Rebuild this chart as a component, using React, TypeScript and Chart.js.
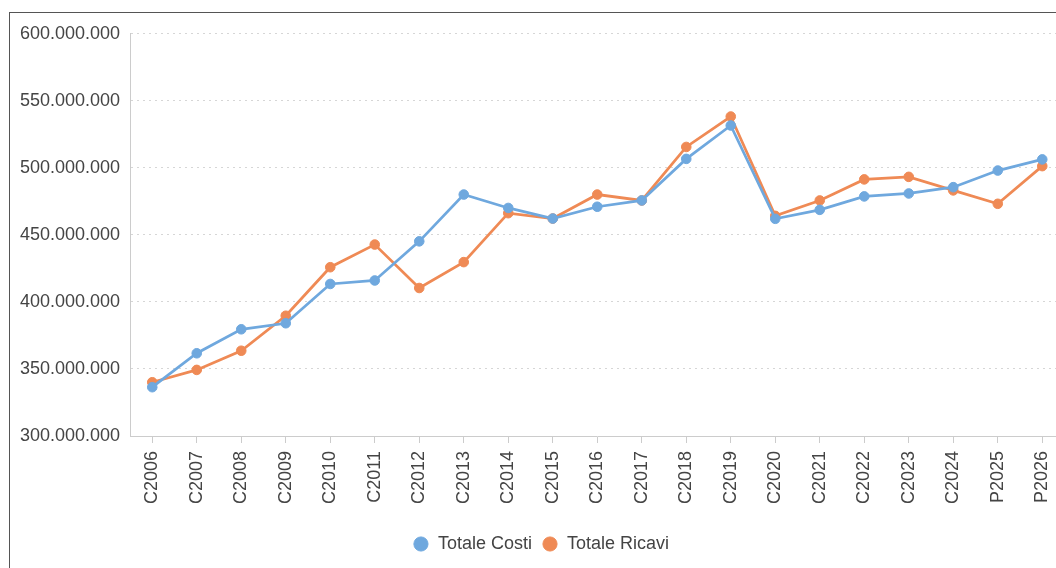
import React, { useEffect, useRef } from "react";
import { Chart, registerables } from "chart.js";

Chart.register(...registerables);

const categories = [
  "C2006", "C2007", "C2008", "C2009", "C2010", "C2011", "C2012", "C2013", "C2014", "C2015",
  "C2016", "C2017", "C2018", "C2019", "C2020", "C2021", "C2022", "C2023", "C2024", "P2025", "P2026",
];

const totaleCosti = [
  336400000, 361700000, 379600000, 384100000, 413400000, 416000000, 445200000, 480100000,
  470100000, 462200000, 471000000, 475700000, 506700000, 531600000, 462000000, 468700000,
  478700000, 480900000, 485600000, 498000000, 506300000,
];

const totaleRicavi = [
  340100000, 349300000, 363600000, 389700000, 425900000, 442800000, 410400000, 429700000,
  466200000, 462200000, 480100000, 475700000, 515600000, 538300000, 464200000, 475700000,
  491400000, 493300000, 483200000, 473200000, 501300000,
];

const yMin = 300000000;
const yMax = 600000000;
const yStep = 50000000;

const seriesNames = ["Totale Costi", "Totale Ricavi"];
const seriesColors = ["#6FA8DE", "#EF8A55"];

function formatIt(v: number): string {
  return String(Math.round(v)).replace(/\B(?=(\d{3})+(?!\d))/g, ".");
}

export default function App() {
  const canvasRef = useRef<HTMLCanvasElement | null>(null);

  useEffect(() => {
    if (!canvasRef.current) return;
    Chart.defaults.font.family = "'Liberation Sans', Arial, sans-serif";
    Chart.defaults.color = "#444";
    const text = "#444";
    const chart = new Chart(canvasRef.current, {
      type: "line",
      data: {
        labels: categories,
        datasets: [totaleCosti, totaleRicavi].map((d, i) => ({
          label: seriesNames[i],
          data: d,
          borderColor: seriesColors[i],
          backgroundColor: seriesColors[i],
          pointBackgroundColor: seriesColors[i],
          pointBorderColor: seriesColors[i],
          borderWidth: 2.75,
          pointRadius: 4.8,
          pointBorderWidth: 1,
          tension: 0,
          fill: false,
        })),
      },
      options: {
        animation: false,
        responsive: false,
        maintainAspectRatio: false,
        layout: { padding: { top: 20, right: 0, bottom: 0, left: 0 } },
        plugins: {
          legend: {
            position: "bottom",
            labels: {
              usePointStyle: true,
              pointStyle: "circle",
              boxWidth: 16,
              boxHeight: 10,
              padding: 10,
              color: text,
              font: { size: 18 },
            },
          },
          tooltip: { enabled: false },
        },
        scales: {
          x: {
            offset: true,
            afterFit: (scale: any) => {
              scale.height = 89;
            },
            grid: {
              drawOnChartArea: false,
              drawTicks: true,
              tickLength: 7,
              color: "#cccccc",
            },
            border: { color: "#cccccc", width: 1 },
            ticks: {
              color: text,
              font: { size: 18 },
              maxRotation: 90,
              minRotation: 90,
              autoSkip: false,
              padding: 8,
            },
          },
          y: {
            min: yMin,
            max: yMax,
            afterFit: (scale: any) => {
              scale.width = 120;
            },
            grid: {
              color: "#d6d6d6",
              drawTicks: false,
              lineWidth: 1,
            },
            border: { display: true, color: "#cccccc", width: 1, dash: [2, 4] },
            ticks: {
              stepSize: yStep,
              color: text,
              font: { size: 18 },
              padding: 10,
              callback: (v: any) => formatIt(Number(v)),
            },
          },
        },
      },
    });
    return () => chart.destroy();
  }, []);

  return (
    <div style={{ position: "fixed", left: 0, top: 0, width: 1056, height: 568, overflow: "hidden", background: "#fff" }}>
      <div
        style={{
          position: "absolute",
          left: 9,
          top: 12,
          width: 1100,
          height: 600,
          borderTop: "1px solid #555",
          borderLeft: "1px solid #555",
        }}
      >
        <canvas ref={canvasRef} width={1062} height={550} style={{ display: "block" }} />
      </div>
    </div>
  );
}
